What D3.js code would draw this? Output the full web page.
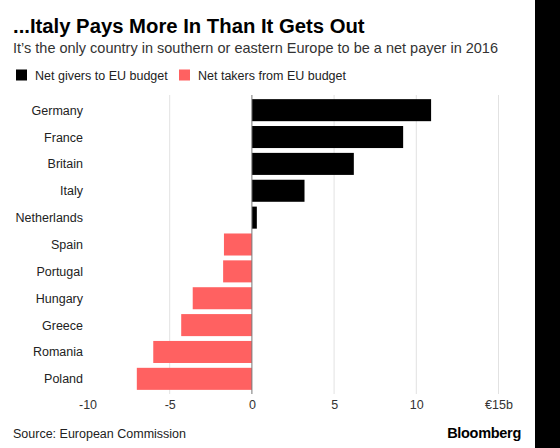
<!DOCTYPE html>
<html><head><meta charset="utf-8">
<script src="https://cdn.jsdelivr.net/npm/d3@7"></script>
<style>
html,body{margin:0;padding:0;background:#000;}
svg{display:block;}
text{font-family:"Liberation Sans",Arial,sans-serif;}
</style></head>
<body>
<svg id="chart" width="535" height="448"></svg>
<script>
const countries = ["Germany","France","Britain","Italy","Netherlands","Spain","Portugal","Hungary","Greece","Romania","Poland"];
const netBalance = [10.9, 9.2, 6.2, 3.2, 0.3, -1.7, -1.75, -3.6, -4.3, -6.0, -7.0];
const tickValues = [-10, -5, 0, 5, 10, 15];
const tickLabels = ["-10", "-5", "0", "5", "10", "€15b"];
const legendLabels = ["Net givers to EU budget", "Net takers from EU budget"];
const colors = ["#000000", "#ff6161"];

const svg = d3.select("#chart");
svg.append("rect").attr("x", 0).attr("y", 0).attr("width", 535).attr("height", 448).attr("fill", "#fff");
const x = d3.scaleLinear().domain([-10, 15]).range([87.5, 498.5]);
const y = d3.scaleBand().domain(countries).range([97, 392]).paddingInner(0.18).paddingOuter(0.08);

// title
svg.append("text").attr("x", 13).attr("y", 33).attr("font-size", 20.3).attr("font-weight", "bold")
  .attr("fill", "#000").text("...Italy Pays More In Than It Gets Out");
svg.append("text").attr("x", 13).attr("y", 53).attr("font-size", 14.5).attr("fill", "#333")
  .text("It\u2019s the only country in southern or eastern Europe to be a net payer in 2016");

// legend
const lg = svg.append("g");
const legX = [16, 179];
legendLabels.forEach((l, i) => {
  lg.append("rect").attr("x", legX[i]).attr("y", 69.5).attr("width", 11).attr("height", 11).attr("fill", colors[i]);
  lg.append("text").attr("x", legX[i] + 19).attr("y", 80).attr("font-size", 12.5).attr("fill", "#222").text(l);
});

// grid
svg.append("g").selectAll("line").data(tickValues.filter(v => v !== 0 && v !== -10)).join("line")
  .attr("x1", d => x(d)).attr("x2", d => x(d)).attr("y1", 95).attr("y2", 394)
  .attr("stroke", "#e2e2e2").attr("stroke-width", 1);

// bars
svg.append("g").selectAll("rect").data(countries).join("rect")
  .attr("x", (d, i) => x(Math.min(0, netBalance[i])))
  .attr("width", (d, i) => Math.abs(x(netBalance[i]) - x(0)))
  .attr("y", d => y(d)).attr("height", y.bandwidth())
  .attr("fill", (d, i) => netBalance[i] >= 0 ? colors[0] : colors[1]);

// zero line
svg.append("line").attr("x1", x(0)).attr("x2", x(0)).attr("y1", 95).attr("y2", 394)
  .attr("stroke", "#777").attr("stroke-width", 1);

// category labels
svg.append("g").selectAll("text").data(countries).join("text")
  .attr("x", 83).attr("y", d => y(d) + y.bandwidth() / 2 + 4.5)
  .attr("text-anchor", "end").attr("font-size", 12.5).attr("fill", "#222").text(d => d);

// x axis
const xAxis = d3.axisBottom(x).tickValues(tickValues).tickFormat((d, i) => tickLabels[i]).tickSize(0).tickPadding(0);
const ax = svg.append("g").attr("transform", "translate(0,400)").call(xAxis);
ax.select(".domain").remove();
ax.selectAll("text").attr("font-size", 12.5).attr("fill", "#333").attr("dy", "0.71em")
  .style("font-family", "'Liberation Sans',Arial,sans-serif");

// footer
svg.append("text").attr("x", 13).attr("y", 438).attr("font-size", 12.5).attr("fill", "#222").text("Source: European Commission");
svg.append("text").attr("x", 521).attr("y", 438).attr("text-anchor", "end").attr("font-size", 14.5)
  .attr("font-weight", "bold").attr("fill", "#000").attr("letter-spacing", "-0.3").text("Bloomberg");
</script>
</body></html>
